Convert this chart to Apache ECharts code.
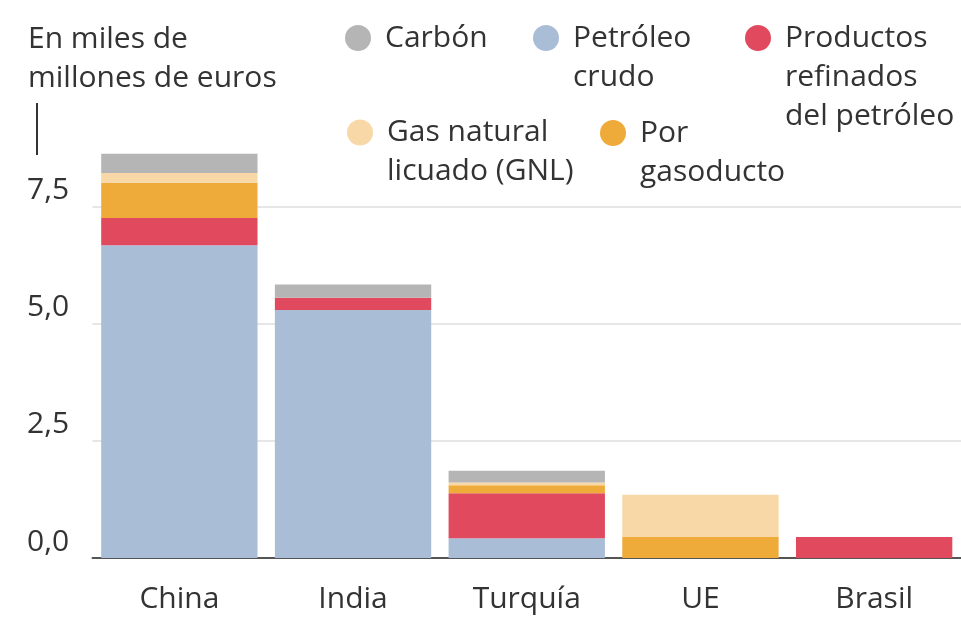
<!DOCTYPE html>
<html>
<head>
<meta charset="utf-8">
<script src="https://cdn.jsdelivr.net/npm/echarts@6/dist/echarts.min.js"></script>
<style>
html,body{margin:0;padding:0;background:#fff;}
#chart{width:961px;height:617px;}
</style>
</head>
<body>
<div id="chart"></div>
<script>
var categories = ['China', 'India', 'Turquía', 'UE', 'Brasil'];
var seriesNames = ['Petróleo crudo', 'Productos refinados del petróleo', 'Por gasoducto', 'Gas natural licuado (GNL)', 'Carbón'];
var crude    = [6.67, 5.29, 0.42, 0,    0];
var refined  = [0.58, 0.26, 0.96, 0,    0.45];
var pipeline = [0.75, 0,    0.17, 0.45, 0];
var lng      = [0.21, 0,    0.06, 0.90, 0];
var coal     = [0.41, 0.28, 0.25, 0,    0];
var yTicks = [0, 2.5, 5, 7.5];
var unitTitle = 'En miles de\nmillones de euros';
var legendLabels = {
  'Carbón': 'Carbón',
  'Petróleo crudo': 'Petróleo\ncrudo',
  'Productos refinados del petróleo': 'Productos\nrefinados\ndel petróleo',
  'Gas natural licuado (GNL)': 'Gas natural\nlicuado (GNL)',
  'Por gasoducto': 'Por\ngasoducto'
};

var FONT = '"Open Sans", "Noto Sans", "Liberation Sans", sans-serif';
var TXT = '#333333';
var LH = 39;
var colors = {
  'Petróleo crudo': '#a9bdd6',
  'Productos refinados del petróleo': '#e0495e',
  'Por gasoducto': '#eeab39',
  'Gas natural licuado (GNL)': '#f8d8a6',
  'Carbón': '#b5b5b5'
};
var values = [crude, refined, pipeline, lng, coal];

// Legend item: icon aligned with the first text line.
// The legend centres its text block on the icon, so (n-1) blank lines are
// put in front of an n-line label to keep the first line level with the icon.
function legendFor(name, iconCenterX, iconCenterY) {
  var label = legendLabels[name];
  var n = label.split('\n').length;
  var padded = new Array(n).join('\n') + label;
  var blockH = (2 * n - 1) * LH;
  return {
    data: [name],
    left: iconCenterX - 13,
    top: iconCenterY - blockH / 2,
    padding: 0,
    icon: 'circle',
    itemWidth: 26,
    itemHeight: 26,
    selectedMode: false,
    formatter: function () { return padded; },
    textStyle: {
      fontFamily: FONT,
      fontSize: 30,
      color: TXT,
      lineHeight: LH,
      padding: [0, 0, 0, 9]
    }
  };
}

var chart = echarts.init(document.getElementById('chart'), null, {renderer: 'canvas'});
var option = {
  animation: false,
  backgroundColor: '#ffffff',
  title: {
    text: unitTitle,
    left: 28,
    top: 19.5,
    padding: 0,
    textStyle: {fontFamily: FONT, fontSize: 30, fontWeight: 'normal', color: TXT, lineHeight: LH}
  },
  legend: [
    legendFor('Carbón', 358, 38),
    legendFor('Petróleo crudo', 546, 38),
    legendFor('Productos refinados del petróleo', 758, 38),
    legendFor('Gas natural licuado (GNL)', 360, 132.5),
    legendFor('Por gasoducto', 613, 133)
  ],
  graphic: [{
    type: 'line',
    shape: {x1: 37, y1: 103, x2: 37, y2: 155},
    style: {stroke: TXT, lineWidth: 2}
  }],
  grid: {left: 92.5, right: -6.5, top: 89, bottom: 59, containLabel: false},
  xAxis: {
    type: 'category',
    data: categories,
    axisTick: {show: false},
    axisLine: {show: true, lineStyle: {color: '#555555', width: 2}},
    axisLabel: {fontFamily: FONT, fontSize: 30, color: TXT, margin: 26, lineHeight: 30}
  },
  yAxis: {
    type: 'value',
    min: 0,
    max: 10,
    interval: 2.5,
    axisLine: {show: false},
    axisTick: {show: false},
    splitLine: {show: true, showMaxLine: false, lineStyle: {color: '#dedede', width: 1.5}},
    axisLabel: {
      showMaxLabel: false,
      fontFamily: FONT, fontSize: 30, color: TXT,
      align: 'left', verticalAlign: 'bottom', lineHeight: 32,
      margin: 65.5,
      formatter: function (v) {
        return yTicks.indexOf(v) >= 0 ? v.toFixed(1).replace('.', ',') : '';
      }
    }
  },
  series: seriesNames.map(function (name, i) {
    return {
      name: name,
      type: 'bar',
      stack: 'total',
      barCategoryGap: '10%',
      data: values[i],
      itemStyle: {color: colors[name]},
      emphasis: {disabled: true}
    };
  })
};
chart.setOption(option);
</script>
</body>
</html>
